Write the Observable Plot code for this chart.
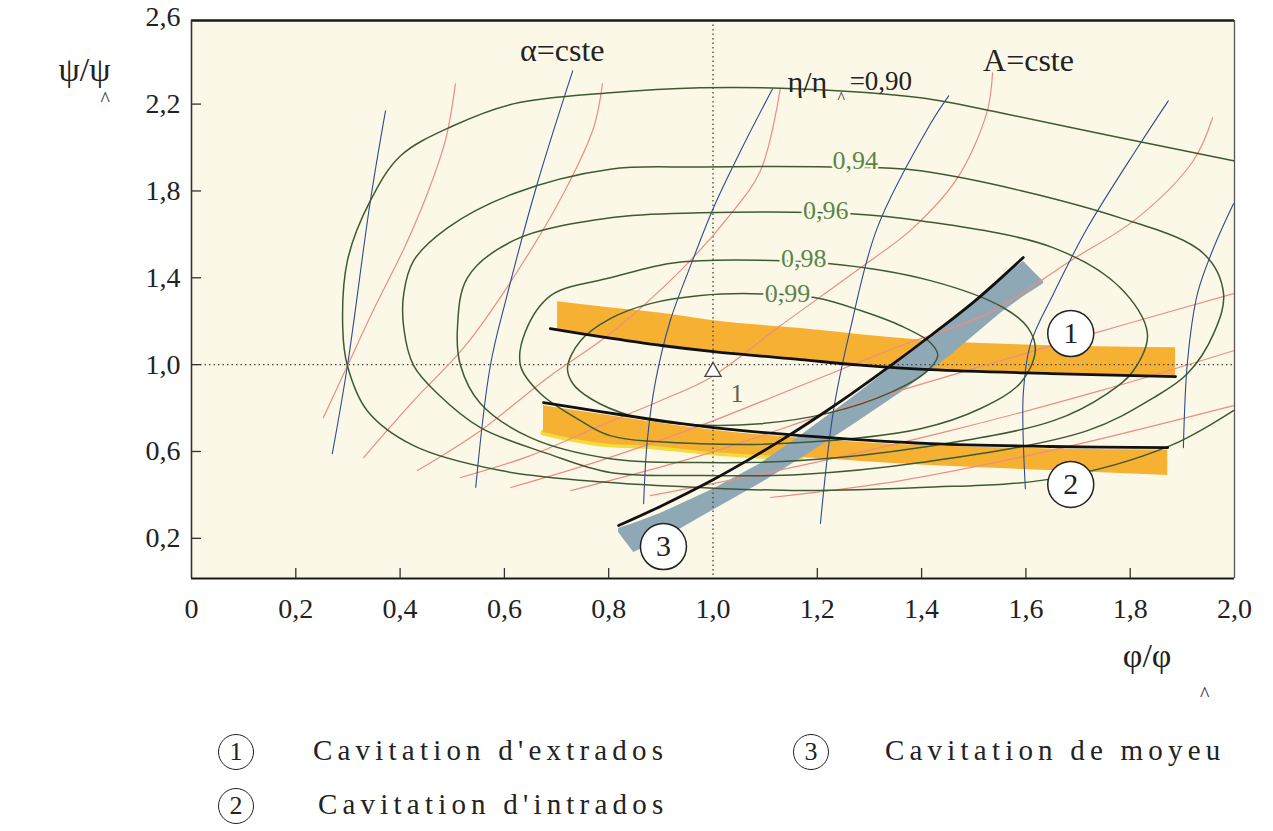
<!DOCTYPE html>
<html>
<head>
<meta charset="utf-8">
<script src="https://cdn.jsdelivr.net/npm/d3@7"></script>
<script src="https://cdn.jsdelivr.net/npm/@observablehq/plot@0.6"></script>
<style>
  body { margin: 0; background: #fff; }
  #wrap { position: relative; width: 1273px; height: 831px; font-family: "Liberation Serif", serif; color: #222; }
  .leg { position: absolute; display: flex; align-items: center; font-size: 29px; letter-spacing: 5.2px; white-space: nowrap; }
  .num { position: absolute; width: 34px; height: 34px; border: 1.8px solid #222; border-radius: 50%;
         display: flex; align-items: center; justify-content: center; font-size: 26px; background: #fff; }
</style>
</head>
<body>
<div id="wrap">
  <div id="chart"></div>
</div>
<script>
// Axis ticks
const xTicks = [0, 0.2, 0.4, 0.6, 0.8, 1.0, 1.2, 1.4, 1.6, 1.8, 2.0];
const yTicks = [0.2, 0.6, 1.0, 1.4, 1.8, 2.2, 2.6];
const xTickMarks = [0.2, 0.4, 0.6, 0.8, 1.2, 1.4, 1.6, 1.8];
const yTickMarks = [0.2, 0.6, 1.0, 1.4, 1.8, 2.2];

// Efficiency contours η/η^ (φ/φ^, ψ/ψ^)
const eta090Phi = [1.998,1.781,1.551,1.398,1.168,0.976,0.803,0.617,0.502,0.401,0.343,0.299,0.290,0.299,0.337,0.426,0.593,0.803,0.976,1.168,1.398,1.653,1.877,1.998];
const eta090Psi = [1.939,2.045,2.160,2.229,2.270,2.275,2.252,2.201,2.100,1.962,1.755,1.479,1.170,0.995,0.788,0.627,0.512,0.457,0.434,0.420,0.434,0.475,0.627,0.788];
const eta094Phi = [0.803,0.617,0.491,0.426,0.407,0.407,0.426,0.472,0.554,0.683,0.803,0.976,1.168,1.398,1.718,1.845,1.910,1.960,1.979,1.941,1.781,1.398,1.225,0.976];
const eta094Psi = [1.900,1.787,1.630,1.479,1.327,1.170,0.995,0.866,0.710,0.590,0.503,0.489,0.494,0.549,0.696,0.848,0.959,1.143,1.327,1.511,1.676,1.893,1.910,1.910];
const eta096Phi = [0.803,0.617,0.529,0.510,0.516,0.554,0.650,0.803,0.976,1.168,1.398,1.653,1.756,1.806,1.833,1.781,1.653,1.398,1.264,0.976];
const eta096Psi = [1.676,1.571,1.400,1.170,0.995,0.821,0.664,0.567,0.549,0.558,0.618,0.742,0.867,0.972,1.143,1.354,1.538,1.663,1.695,1.699];
const eta098Phi = [0.803,0.690,0.640,0.631,0.669,0.746,0.803,0.976,1.168,1.398,1.513,1.590,1.618,1.605,1.557,1.417,1.225,0.976,0.913];
const eta098Psi = [1.400,1.320,1.150,0.995,0.867,0.742,0.673,0.636,0.641,0.705,0.798,0.917,1.064,1.166,1.262,1.387,1.465,1.479,1.465];
const eta099Phi = [0.721,0.746,0.803,0.880,0.976,1.072,1.197,1.283,1.360,1.417,1.431,1.407,1.340,1.225,1.091,0.957,0.842,0.765,0.731];
const eta099Psi = [0.986,1.110,1.212,1.281,1.318,1.327,1.308,1.249,1.179,1.101,1.041,0.963,0.871,0.779,0.728,0.724,0.765,0.844,0.913];

// Lines of constant blade angle (α = cste)
const alpha1Phi = [0.372,0.343,0.299,0.270];
const alpha1Psi = [2.169,1.755,0.995,0.590];
const alpha2Phi = [0.731,0.663,0.606,0.573,0.545];
const alpha2Psi = [2.353,1.833,1.327,0.995,0.434];
const alpha3Phi = [1.114,1.053,1.001,0.957,0.918,0.890,0.874,0.867];
const alpha3Psi = [2.270,1.985,1.723,1.456,1.202,0.926,0.650,0.360];
const alpha4Phi = [1.452,1.417,1.315,1.264,1.231,1.206];
const alpha4Psi = [2.238,2.109,1.630,1.170,0.788,0.268];
const alpha5Phi = [1.873,1.814,1.718,1.653,1.609,1.595,1.599];
const alpha5Psi = [2.215,1.999,1.630,1.327,1.097,0.867,0.429];
const alpha6Phi = [1.998,1.960,1.929,1.910,1.902];
const alpha6Psi = [1.741,1.538,1.327,1.018,0.618];

// Lines of constant A (A = cste)
const a1Phi = [0.253,0.299,0.353,0.410,0.458,0.489,0.506];
const a1Psi = [0.756,0.995,1.272,1.548,1.824,2.054,2.293];
const a2Phi = [0.330,0.426,0.522,0.617,0.713,0.771,0.788];
const a2Psi = [0.572,0.834,1.078,1.400,1.787,2.091,2.293];
const a3Phi = [0.433,0.554,0.683,0.803,0.943,1.028,1.091,1.129];
const a3Psi = [0.512,0.696,0.940,1.143,1.446,1.676,1.893,2.270];
const a4Phi = [0.516,0.650,0.784,0.899,0.995,1.129,1.283,1.384,1.469,1.526,1.536];
const a4Psi = [0.480,0.581,0.719,0.834,0.940,1.179,1.446,1.630,1.861,2.169,2.344];
const a5Phi = [0.612,0.784,0.976,1.168,1.360,1.526,1.686,1.814,1.921,1.958];
const a5Psi = [0.434,0.558,0.719,0.903,1.087,1.235,1.479,1.676,1.939,2.137];
const a6Phi = [0.727,0.976,1.264,1.551,1.781,1.998];
const a6Psi = [0.420,0.581,0.811,1.018,1.179,1.327];
const a7Phi = [0.880,1.168,1.455,1.743,1.998];
const a7Psi = [0.397,0.535,0.696,0.880,1.064];
const a8Phi = [1.110,1.360,1.647,1.998];
const a8Psi = [0.388,0.466,0.604,0.811];

// Cavitation limits (1) extrados, (2) intrados, (3) hub
const band1Phi = [0.702,0.784,0.905,1.001,1.168,1.283,1.417,1.647,1.887];
const band1Top = [1.290,1.267,1.235,1.202,1.166,1.138,1.110,1.087,1.078];
const band1Bottom = [1.160,1.127,1.085,1.058,1.021,0.996,0.975,0.957,0.943];
const limit1Phi = [0.688,0.784,0.905,1.001,1.168,1.283,1.417,1.647,1.887];
const limit1Psi = [1.166,1.129,1.087,1.060,1.023,0.998,0.977,0.959,0.945];

const band2Phi = [0.675,0.784,0.886,1.001,1.168,1.417,1.647,1.872];
const band2Top = [0.811,0.772,0.735,0.698,0.661,0.626,0.612,0.607];
const band2Bottom = [0.687,0.637,0.623,0.595,0.572,0.535,0.512,0.489];
const limit2Phi = [0.675,0.784,0.886,1.001,1.168,1.417,1.647,1.872];
const limit2Psi = [0.825,0.784,0.747,0.710,0.673,0.636,0.623,0.618];
const fringe2Phi = [0.675,0.784,0.886,1.001,1.168];
const fringe2Psi = [0.687,0.637,0.623,0.595,0.572];

const band3Phi = [0.819,0.848,0.899,0.999,1.091,1.168,1.264,1.360,1.455,1.551,1.595,1.634];
const band3Top = [0.245,0.268,0.314,0.425,0.544,0.672,0.842,1.020,1.200,1.385,1.476,1.382];
const band3Bottom = [0.227,0.135,0.190,0.328,0.452,0.567,0.715,0.871,1.041,1.235,1.313,1.373];
const limit3Phi = [0.819,0.899,1.001,1.072,1.135,1.206,1.264,1.340,1.417,1.503,1.595];
const limit3Psi = [0.259,0.347,0.471,0.567,0.658,0.768,0.863,0.994,1.133,1.295,1.493];

// Zone markers and labels
const zoneIds = ["1", "2", "3"];
const zonePhi = [1.686, 1.686, 0.905];
const zonePsi = [1.143, 0.448, 0.162];
const designPhi = [1.0];
const designPsi = [1.0];
const contourLabels = ["0,94", "0,96", "0,98", "0,99"];
const contourLabelPhi = [1.273, 1.216, 1.174, 1.143];
const contourLabelPsi = [1.939, 1.709, 1.488, 1.327];

const legendItems = ["Cavitation d'extrados", "Cavitation d'intrados", "Cavitation de moyeu"];

// Table builders
const pts = (name, phi, psi) => phi.map((p, i) => ({name, phi: p, psi: psi[i]}));
const band = (phi, top, bottom) => phi.map((p, i) => ({phi: p, top: top[i], bottom: bottom[i]}));

const closedContours = [
  ...pts("0,94", eta094Phi, eta094Psi),
  ...pts("0,96", eta096Phi, eta096Psi),
  ...pts("0,98", eta098Phi, eta098Psi),
  ...pts("0,99", eta099Phi, eta099Psi)
];
const openContour = pts("0,90", eta090Phi, eta090Psi);
const alphaLines = [
  ...pts("α1", alpha1Phi, alpha1Psi), ...pts("α2", alpha2Phi, alpha2Psi),
  ...pts("α3", alpha3Phi, alpha3Psi), ...pts("α4", alpha4Phi, alpha4Psi),
  ...pts("α5", alpha5Phi, alpha5Psi), ...pts("α6", alpha6Phi, alpha6Psi)
];
const aLines = [
  ...pts("A1", a1Phi, a1Psi), ...pts("A2", a2Phi, a2Psi), ...pts("A3", a3Phi, a3Psi),
  ...pts("A4", a4Phi, a4Psi), ...pts("A5", a5Phi, a5Psi), ...pts("A6", a6Phi, a6Psi),
  ...pts("A7", a7Phi, a7Psi), ...pts("A8", a8Phi, a8Psi)
];
const limits = [
  ...pts("1", limit1Phi, limit1Psi),
  ...pts("2", limit2Phi, limit2Psi),
  ...pts("3", limit3Phi, limit3Psi)
];
const zones = zoneIds.map((id, i) => ({id, phi: zonePhi[i], psi: zonePsi[i]}));
const design = designPhi.map((p, i) => ({phi: p, psi: designPsi[i]}));
const levelLabels = contourLabels.map((t, i) => ({t, phi: contourLabelPhi[i], psi: contourLabelPsi[i]}));

const fmt = d => d === 0 ? "0" : d.toFixed(1).replace(".", ",");

const cream = "#fcf8e7";
const orange = "#f6b132";
const slate = "#8fa8b6";
const green = "#3d5a33";
const blue = "#2d4b8e";
const pink = "#ee8c82";

const yDomain = [0.015, 2.585];
const plotW = 1273 - 191 - 39;
const plotH = 720 - 20 - 142;

const chart = Plot.plot({
  width: 1273,
  height: 720,
  marginLeft: 191,
  marginRight: 39,
  marginTop: 20,
  marginBottom: 142,
  x: {domain: [0, 2]},
  y: {domain: yDomain},
  style: {fontFamily: "'Liberation Serif', serif", background: "transparent", overflow: "visible", color: "#222"},
  marks: [
    Plot.frame({fill: cream, stroke: null}),

    // cavitation zones
    Plot.line(pts("fringe", fringe2Phi, fringe2Psi), {x: "phi", y: "psi", stroke: "#f2dc3c", strokeWidth: 6, curve: "monotone-x"}),
    Plot.areaY(band(band1Phi, band1Top, band1Bottom), {x: "phi", y1: "bottom", y2: "top", fill: orange, curve: "monotone-x"}),
    Plot.areaY(band(band2Phi, band2Top, band2Bottom), {x: "phi", y1: "bottom", y2: "top", fill: orange, curve: "monotone-x"}),
    Plot.areaY(band(band3Phi, band3Top, band3Bottom), {x: "phi", y1: "bottom", y2: "top", fill: slate}),

    // reference lines through the design point
    Plot.ruleX([1], {stroke: "#444", strokeWidth: 1.3, strokeDasharray: "1.5,3"}),
    Plot.ruleY([1], {stroke: "#444", strokeWidth: 1.3, strokeDasharray: "1.5,3"}),

    // A = cste and α = cste families
    Plot.line(aLines, {x: "phi", y: "psi", z: "name", stroke: pink, strokeWidth: 1.2, curve: "catmull-rom"}),
    Plot.line(alphaLines, {x: "phi", y: "psi", z: "name", stroke: blue, strokeWidth: 1.1, curve: "catmull-rom"}),

    // efficiency contours
    Plot.line(openContour, {x: "phi", y: "psi", stroke: green, strokeWidth: 1.5, curve: "catmull-rom"}),
    Plot.line(closedContours, {x: "phi", y: "psi", z: "name", stroke: green, strokeWidth: 1.5, curve: "catmull-rom-closed"}),

    // cavitation limit curves
    Plot.line(limits, {x: "phi", y: "psi", z: "name", stroke: "#111", strokeWidth: 2.8, curve: "catmull-rom"}),

    // frame
    Plot.ruleY([yDomain[1]], {stroke: "#1a1a1a", strokeWidth: 2.4}),
    Plot.ruleY([yDomain[0]], {stroke: "#1a1a1a", strokeWidth: 2.2}),
    Plot.ruleX([0], {stroke: "#333", strokeWidth: 1.6}),
    Plot.ruleX([2], {stroke: "#555", strokeWidth: 1.3}),
    Plot.ruleX(xTickMarks, {x: d => d, insetTop: plotH - 10, stroke: "#333", strokeWidth: 1.3}),
    Plot.ruleY(yTickMarks, {y: d => d, insetRight: plotW - 10, stroke: "#333", strokeWidth: 1.3}),

    Plot.axisX(xTicks, {tickSize: 0, tickPadding: 20, tickFormat: fmt, fontSize: 28, label: null}),
    Plot.axisY(yTicks, {tickSize: 0, tickPadding: 11, tickFormat: fmt, fontSize: 28, label: null}),

    // axis names
    Plot.text(["ψ/ψ"], {text: d => d, frameAnchor: "top-left", dx: -133, dy: 36, fontSize: 34}),
    Plot.text(["^"], {text: d => d, frameAnchor: "top-left", dx: -91, dy: 71, fontSize: 20}),
    Plot.text(["φ/φ"], {text: d => d, frameAnchor: "bottom-right", dx: -63, dy: 88, fontSize: 34}),
    Plot.text(["^"], {text: d => d, frameAnchor: "bottom-right", dx: -25, dy: 122, fontSize: 20}),

    // family labels
    Plot.text(["α=cste"], {text: d => d, x: 0.711, y: 2.445, fontSize: 32}),
    Plot.text(["A=cste"], {text: d => d, x: 1.605, y: 2.399, fontSize: 32}),
    Plot.text(["η/η"], {text: d => d, x: 1.143, y: 2.30, textAnchor: "start", fontSize: 30}),
    Plot.text(["^"], {text: d => d, x: 1.246, y: 2.23, fontSize: 16}),
    Plot.text(["=0,90"], {text: d => d, x: 1.262, y: 2.307, textAnchor: "start", fontSize: 27}),
    Plot.text(levelLabels, {x: "phi", y: "psi", text: "t", fill: "#5a8648", fontSize: 26,
      stroke: cream, strokeWidth: 5, paintOrder: "stroke"}),

    // design point
    Plot.dot(design, {x: "phi", y: "psi", symbol: "triangle", r: 6, fill: "#fff", stroke: "#444", strokeWidth: 1.3, dy: 7}),
    Plot.text(design, {x: "phi", y: "psi", text: () => "1", dx: 24, dy: 29, fontSize: 26, fill: "#6b5e45"}),

    // zone markers
    Plot.dot(zones, {x: "phi", y: "psi", r: 23, fill: "#fff", stroke: "#222", strokeWidth: 1.5}),
    Plot.text(zones, {x: "phi", y: "psi", text: "id", fontSize: 30, fill: "#222"})
  ]
});
document.getElementById("chart").appendChild(chart);

// legend
const wrap = document.getElementById("wrap");
const legendPos = [[236, 752, 313], [236, 806, 318], [811, 752, 885]];
legendItems.forEach((label, i) => {
  const [cx, cy, tx] = legendPos[i];
  const n = document.createElement("div");
  n.className = "num";
  n.textContent = zoneIds[i];
  n.style.left = (cx - 18) + "px";
  n.style.top = (cy - 18) + "px";
  wrap.appendChild(n);
  const t = document.createElement("div");
  t.className = "leg";
  t.textContent = label;
  t.style.left = tx + "px";
  t.style.top = (cy - 18) + "px";
  wrap.appendChild(t);
});
</script>
</body>
</html>
